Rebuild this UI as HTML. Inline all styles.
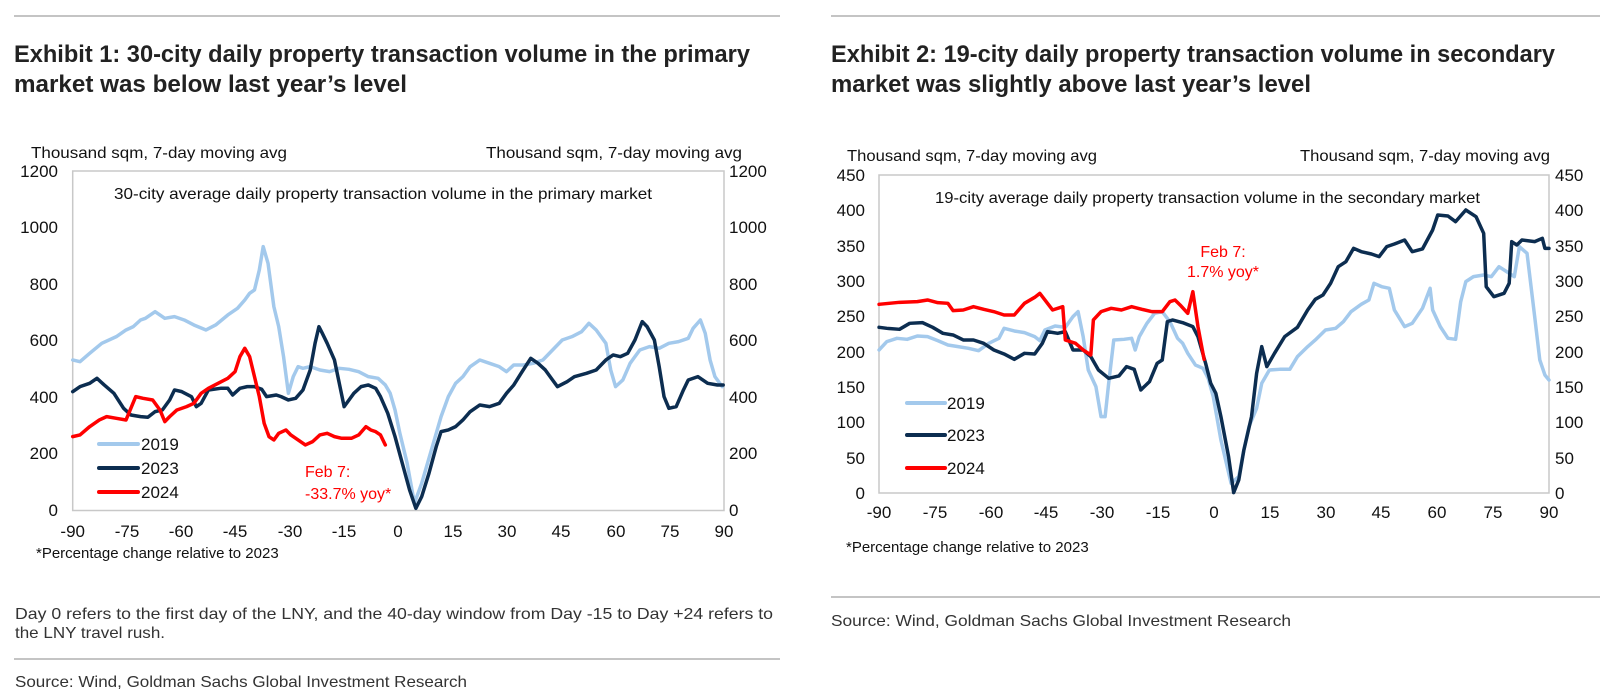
<!DOCTYPE html>
<html><head><meta charset="utf-8"><style>
html,body{margin:0;padding:0;background:#fff;}
svg{display:block;font-family:"Liberation Sans",sans-serif;}
</style></head><body>
<svg width="1601" height="697" viewBox="0 0 1601 697" xmlns="http://www.w3.org/2000/svg">
<line x1="14" y1="16" x2="780" y2="16" stroke="#b0b0b0" stroke-width="1.5"/>
<line x1="831" y1="16" x2="1600" y2="16" stroke="#b0b0b0" stroke-width="1.5"/>
<g font-weight="bold" font-size="24" fill="#222">
<text x="14" y="62" textLength="736" lengthAdjust="spacingAndGlyphs">Exhibit 1: 30-city daily property transaction volume in the primary</text>
<text x="14" y="92" textLength="393" lengthAdjust="spacingAndGlyphs">market was below last year’s level</text>
<text x="831" y="62" textLength="724" lengthAdjust="spacingAndGlyphs">Exhibit 2: 19-city daily property transaction volume in secondary</text>
<text x="831" y="92" textLength="480" lengthAdjust="spacingAndGlyphs">market was slightly above last year’s level</text>
</g>

<g font-size="16" fill="#111">
<text x="31" y="158" textLength="256" lengthAdjust="spacingAndGlyphs">Thousand sqm, 7-day moving avg</text>
<text x="742" y="158" text-anchor="end" textLength="256" lengthAdjust="spacingAndGlyphs">Thousand sqm, 7-day moving avg</text>
<text x="114" y="199" textLength="538" lengthAdjust="spacingAndGlyphs">30-city average daily property transaction volume in the primary market</text>
</g>
<rect x="72.7" y="171" width="651.3" height="339.5" fill="none" stroke="#c8c8c8" stroke-width="1.5"/>
<g font-size="17" fill="#111" text-anchor="end">
<text x="58" y="516">0</text><text x="58" y="459">200</text><text x="58" y="403">400</text><text x="58" y="346">600</text><text x="58" y="290">800</text><text x="58" y="233">1000</text><text x="58" y="177">1200</text>
</g>
<g font-size="17" fill="#111">
<text x="729" y="516">0</text><text x="729" y="459">200</text><text x="729" y="403">400</text><text x="729" y="346">600</text><text x="729" y="290">800</text><text x="729" y="233">1000</text><text x="729" y="177">1200</text>
</g>
<g font-size="17" fill="#111" text-anchor="middle">
<text x="72.7" y="537">-90</text><text x="127" y="537">-75</text><text x="181" y="537">-60</text><text x="235" y="537">-45</text><text x="290" y="537">-30</text><text x="344" y="537">-15</text><text x="398" y="537">0</text><text x="453" y="537">15</text><text x="507" y="537">30</text><text x="561" y="537">45</text><text x="616" y="537">60</text><text x="670" y="537">75</text><text x="724" y="537">90</text>
</g>
<g transform="translate(0,130) scale(0.4847,0.3333)" fill="none" stroke-linejoin="round" stroke-linecap="round">
<polyline vector-effect="non-scaling-stroke" stroke="#a3c9ec" stroke-width="3.5" points="150,690 165,695 185,670 210,640 240,620 260,600 275,590 290,570 300,565 320,545 340,565 360,560 380,570 400,585 425,600 445,585 470,555 490,535 505,510 515,490 525,480 535,420 543,350 553,400 565,530 575,590 585,680 595,790 605,740 615,710 625,715 640,710 660,720 680,725 700,715 720,718 740,725 760,740 780,745 795,765 805,790 815,840 825,910 840,1000 855,1120 870,1060 890,960 910,860 925,800 940,760 955,740 970,710 990,690 1010,700 1030,710 1045,725 1060,705 1080,705 1100,700 1120,690 1140,660 1160,630 1180,620 1200,605 1215,580 1230,600 1250,640 1260,720 1270,770 1285,750 1300,700 1320,660 1340,650 1360,655 1380,640 1400,635 1420,625 1430,595 1445,570 1455,610 1465,690 1475,740 1490,770"/>
<polyline vector-effect="non-scaling-stroke" stroke="#0c2d50" stroke-width="3.5" points="150,785 165,770 185,760 200,745 215,765 235,790 255,835 270,855 290,860 305,862 320,845 335,840 350,810 360,780 375,785 395,800 405,830 415,820 430,780 455,775 470,775 480,795 495,775 510,770 525,770 540,778 550,800 570,795 580,800 595,810 610,805 625,780 640,720 650,640 658,590 665,610 675,640 690,690 700,760 710,830 720,810 730,790 745,770 760,765 775,775 785,800 800,850 815,920 830,1000 845,1080 858,1135 870,1100 885,1030 900,950 910,905 925,900 940,890 955,870 970,845 990,825 1010,830 1030,820 1045,790 1060,765 1075,730 1095,685 1110,700 1125,720 1140,750 1150,770 1170,755 1185,740 1210,730 1230,720 1250,690 1265,675 1280,680 1295,670 1310,630 1325,575 1335,590 1350,630 1360,710 1370,800 1380,835 1395,830 1410,780 1420,750 1440,740 1460,760 1480,765 1492,765"/>
<polyline vector-effect="non-scaling-stroke" stroke="#ff0000" stroke-width="3.5" points="150,920 165,915 185,890 205,870 220,860 240,865 260,870 280,800 295,805 315,810 330,840 340,875 350,860 365,840 385,830 400,820 415,790 430,775 450,760 470,745 485,725 495,680 505,655 515,680 525,740 535,800 545,880 555,920 565,930 575,910 590,900 600,915 615,930 630,945 645,935 660,915 675,910 690,920 705,925 725,925 740,915 755,890 765,900 775,905 785,915 795,945"/>
</g>
<line x1="99" y1="444" x2="138" y2="444" stroke="#a3c9ec" stroke-width="4" stroke-linecap="round"/>
<line x1="99" y1="468" x2="138" y2="468" stroke="#0c2d50" stroke-width="4" stroke-linecap="round"/>
<line x1="99" y1="492" x2="138" y2="492" stroke="#ff0000" stroke-width="4" stroke-linecap="round"/>
<g font-size="17" fill="#111">
<text x="141" y="450">2019</text><text x="141" y="474">2023</text><text x="141" y="498">2024</text>
</g>
<g font-size="16" fill="#ff0000">
<text x="305" y="477">Feb 7:</text><text x="305" y="499">-33.7% yoy*</text>
</g>
<text x="36" y="558" font-size="15" fill="#111">*Percentage change relative to 2023</text>
<g font-size="16" fill="#333">
<text x="15" y="619" textLength="758" lengthAdjust="spacingAndGlyphs">Day 0 refers to the first day of the LNY, and the 40-day window from Day -15 to Day +24 refers to</text>
<text x="15" y="638" textLength="150" lengthAdjust="spacingAndGlyphs">the LNY travel rush.</text>
</g>
<line x1="14" y1="659" x2="780" y2="659" stroke="#b0b0b0" stroke-width="1.5"/>
<text x="15" y="687" font-size="16" fill="#333" textLength="452" lengthAdjust="spacingAndGlyphs">Source: Wind, Goldman Sachs Global Investment Research</text>

<g font-size="16" fill="#111">
<text x="847" y="161" textLength="250" lengthAdjust="spacingAndGlyphs">Thousand sqm, 7-day moving avg</text>
<text x="1550" y="161" text-anchor="end" textLength="250" lengthAdjust="spacingAndGlyphs">Thousand sqm, 7-day moving avg</text>
<text x="935" y="203" textLength="545" lengthAdjust="spacingAndGlyphs">19-city average daily property transaction volume in the secondary market</text>
</g>
<rect x="879" y="175" width="670" height="318" fill="none" stroke="#c8c8c8" stroke-width="1.5"/>
<g font-size="17" fill="#111" text-anchor="end">
<text x="865" y="499">0</text><text x="865" y="464">50</text><text x="865" y="428">100</text><text x="865" y="393">150</text><text x="865" y="358">200</text><text x="865" y="322">250</text><text x="865" y="287">300</text><text x="865" y="252">350</text><text x="865" y="216">400</text><text x="865" y="181">450</text>
</g>
<g font-size="17" fill="#111">
<text x="1555" y="499">0</text><text x="1555" y="464">50</text><text x="1555" y="428">100</text><text x="1555" y="393">150</text><text x="1555" y="358">200</text><text x="1555" y="322">250</text><text x="1555" y="287">300</text><text x="1555" y="252">350</text><text x="1555" y="216">400</text><text x="1555" y="181">450</text>
</g>
<g font-size="17" fill="#111" text-anchor="middle">
<text x="879" y="518">-90</text><text x="935" y="518">-75</text><text x="991" y="518">-60</text><text x="1046" y="518">-45</text><text x="1102" y="518">-30</text><text x="1158" y="518">-15</text><text x="1214" y="518">0</text><text x="1270" y="518">15</text><text x="1326" y="518">30</text><text x="1381" y="518">45</text><text x="1437" y="518">60</text><text x="1493" y="518">75</text><text x="1549" y="518">90</text>
</g>
<g transform="translate(800,130) scale(0.5102,0.3333)" fill="none" stroke-linejoin="round" stroke-linecap="round">
<polyline vector-effect="non-scaling-stroke" stroke="#a3c9ec" stroke-width="3.5" points="155,660 170,635 190,625 210,628 230,618 250,620 270,632 290,645 310,650 330,655 350,662 370,640 390,625 400,595 420,603 440,608 460,620 470,632 480,600 500,588 520,592 535,560 545,545 555,620 565,720 580,770 590,860 598,860 605,760 615,630 635,628 650,625 657,660 665,620 680,580 695,550 710,545 725,575 740,625 750,640 760,670 775,705 790,715 800,745 810,800 825,930 845,1060 860,1040 870,960 880,890 895,835 905,760 920,720 940,718 960,718 975,680 995,650 1010,630 1030,600 1050,595 1065,575 1080,545 1100,523 1115,510 1125,460 1140,470 1155,475 1165,540 1185,590 1200,580 1220,535 1235,475 1240,540 1255,590 1270,625 1285,628 1295,515 1305,455 1320,440 1340,435 1355,440 1370,410 1385,425 1400,440 1410,350 1425,370 1440,560 1450,690 1460,735 1468,750"/>
<polyline vector-effect="non-scaling-stroke" stroke="#0c2d50" stroke-width="3.5" points="155,592 170,595 195,598 215,580 240,578 260,592 280,610 300,615 320,630 340,630 360,640 380,660 400,672 420,688 440,670 460,672 475,640 485,605 505,610 520,605 535,660 555,660 570,680 585,720 605,745 625,738 640,710 655,718 668,780 685,755 700,700 710,690 720,575 730,570 750,578 770,590 780,620 795,700 805,760 815,790 825,860 840,980 850,1088 860,1050 870,960 885,860 895,730 905,650 915,710 930,670 950,620 975,592 995,540 1010,508 1025,495 1040,460 1055,410 1070,395 1085,355 1100,365 1120,372 1135,380 1150,350 1165,342 1185,330 1200,365 1220,357 1240,300 1250,255 1270,258 1285,275 1305,240 1325,260 1340,310 1345,470 1360,500 1380,490 1390,460 1395,335 1405,345 1415,330 1440,335 1455,325 1460,355 1468,355"/>
<polyline vector-effect="non-scaling-stroke" stroke="#ff0000" stroke-width="3.5" points="155,523 175,520 195,517 230,515 250,510 270,518 290,520 300,542 320,540 340,530 360,538 380,545 400,555 420,555 440,520 460,502 470,490 480,510 495,540 515,530 520,630 540,640 555,660 570,675 575,570 590,545 610,535 630,540 650,530 670,538 690,545 710,545 725,515 735,510 745,525 760,550 770,485 780,590 792,688"/>
</g>
<line x1="907" y1="403" x2="945" y2="403" stroke="#a3c9ec" stroke-width="4" stroke-linecap="round"/>
<line x1="907" y1="435" x2="945" y2="435" stroke="#0c2d50" stroke-width="4" stroke-linecap="round"/>
<line x1="907" y1="468" x2="945" y2="468" stroke="#ff0000" stroke-width="4" stroke-linecap="round"/>
<g font-size="17" fill="#111">
<text x="947" y="409">2019</text><text x="947" y="441">2023</text><text x="947" y="474">2024</text>
</g>
<g font-size="16" fill="#ff0000" text-anchor="middle">
<text x="1223" y="257">Feb 7:</text><text x="1223" y="277">1.7% yoy*</text>
</g>
<text x="846" y="552" font-size="15" fill="#111">*Percentage change relative to 2023</text>
<line x1="831" y1="597" x2="1600" y2="597" stroke="#b0b0b0" stroke-width="1.5"/>
<text x="831" y="626" font-size="16" fill="#333" textLength="460" lengthAdjust="spacingAndGlyphs">Source: Wind, Goldman Sachs Global Investment Research</text>
</svg>
</body></html>
